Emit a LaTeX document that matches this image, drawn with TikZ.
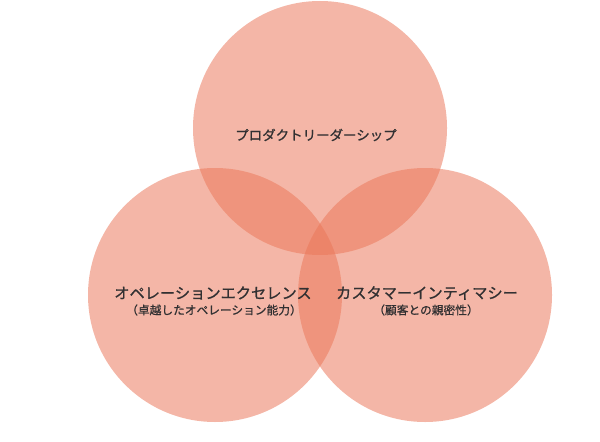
\documentclass[tikz,border=0pt]{standalone}
\usepackage{fontspec}
\newfontfamily\jpfont[FakeBold=0.9]{Noto Sans CJK JP}
\definecolor{ympyra}{RGB}{234,118,88}
\definecolor{teksti}{RGB}{50,48,50}

\begin{document}
\begin{tikzpicture}[line cap=round,line join=round,x=0.03cm,y=0.03cm]

		\useasboundingbox (0,0) rectangle (600,441);

		%ympyrat
		\foreach \cx/\cy in {320/313,215/146,425/146}
		{\fill[color=ympyra, fill opacity=0.53] (\cx,\cy) circle [radius = 127];
		}

		% tekstit
		\node[text=teksti] (tuote) at (316,306) {\jpfont\fontsize{11.5}{14}\selectfont プロダクトリーダーシップ};

		\node[text=teksti] (operaatio) at (213,148) {\jpfont\fontsize{13}{15}\selectfont オペレーションエクセレンス};
		\node[text=teksti] (operaatioala) at (214,131) {\jpfont\fontsize{10}{12}\selectfont （卓越したオペレーション能力）};

		\node[text=teksti] (asiakas) at (427,148) {\jpfont\fontsize{13}{15}\selectfont カスタマーインティマシー};
		\node[text=teksti] (asiakasala) at (426,131) {\jpfont\fontsize{10}{12}\selectfont （顧客との親密性）};

	\end{tikzpicture}
\end{document}
